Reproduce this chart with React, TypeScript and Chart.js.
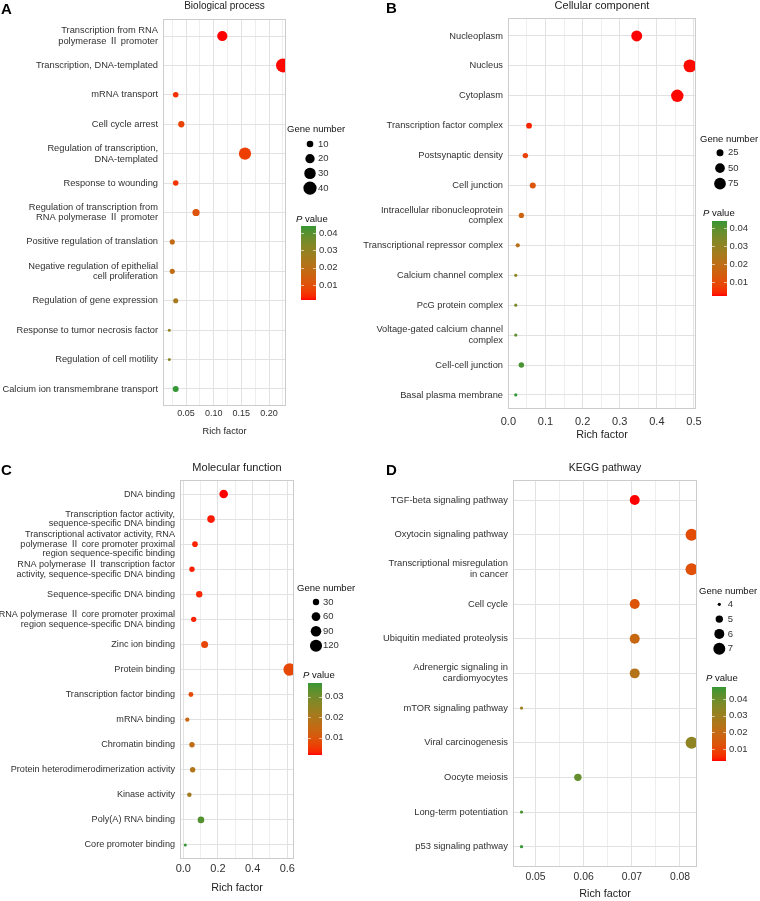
import React, { useEffect, useRef } from "react";
import { Chart, registerables } from "chart.js";

Chart.register(...registerables);

const FONT = "'Liberation Sans', Arial, 'Noto Sans CJK SC', sans-serif";

// ---------- Panel A: Biological process ----------
const bpTerms: (string | string[])[] = [
  ["Transcription from RNA", "polymerase Ⅱ promoter"],
  "Transcription, DNA-templated",
  "mRNA transport",
  "Cell cycle arrest",
  ["Regulation of transcription,", "DNA-templated"],
  "Response to wounding",
  ["Regulation of transcription from", "RNA polymerase Ⅱ promoter"],
  "Positive regulation of translation",
  ["Negative regulation of epithelial", "cell proliferation"],
  "Regulation of gene expression",
  "Response to tumor necrosis factor",
  "Regulation of cell motility",
  "Calcium ion transmembrane transport",
];
const bpRichFactor = [0.1156, 0.2253, 0.0314, 0.0415, 0.1566, 0.0314, 0.0681, 0.0252, 0.0252, 0.0314, 0.0198, 0.0198, 0.0314];
const bpGeneNumber = [24, 45, 7, 9, 34, 7, 12, 6, 6, 6, 2, 2, 8];
const bpPValue = [0.00135, 0.0016, 0.0045, 0.0075, 0.0065, 0.005, 0.011, 0.018, 0.019, 0.025, 0.03, 0.032, 0.044];
const bpXTicks = [0.05, 0.1, 0.15, 0.2];
const bpSizeBreaks = [10, 20, 30, 40];
const bpPBreaks = [0.01, 0.02, 0.03, 0.04];

// ---------- Panel B: Cellular component ----------
const ccTerms: (string | string[])[] = [
  "Nucleoplasm",
  "Nucleus",
  "Cytoplasm",
  "Transcription factor complex",
  "Postsynaptic density",
  "Cell junction",
  ["Intracellular ribonucleoprotein", "complex"],
  "Transcriptional repressor complex",
  "Calcium channel complex",
  "PcG protein complex",
  ["Voltage-gated calcium channel", "complex"],
  "Cell-cell junction",
  "Basal plasma membrane",
];
const ccRichFactor = [0.3457, 0.489, 0.455, 0.0557, 0.0458, 0.0657, 0.035, 0.0253, 0.0199, 0.0199, 0.0199, 0.035, 0.0199];
const ccGeneNumber = [65, 90, 84, 16, 14, 18, 13, 7, 3, 3, 3, 14, 3];
const ccPValue = [0.0022, 0.0025, 0.0024, 0.004, 0.008, 0.012, 0.016, 0.021, 0.031, 0.035, 0.039, 0.042, 0.0439];
const ccXTicks = [0.0, 0.1, 0.2, 0.3, 0.4, 0.5];
const ccSizeBreaks = [25, 50, 75];
const ccPBreaks = [0.01, 0.02, 0.03, 0.04];

// ---------- Panel C: Molecular function ----------
const mfTerms: (string | string[])[] = [
  "DNA binding",
  ["Transcription factor activity,", "sequence-specific DNA binding"],
  ["Transcriptional activator activity, RNA", "polymerase Ⅱ core promoter proximal", "region sequence-specific binding"],
  ["RNA polymerase Ⅱ transcription factor", "activity, sequence-specific DNA binding"],
  "Sequence-specific DNA binding",
  ["RNA polymerase Ⅱ core promoter proximal", "region sequence-specific DNA binding"],
  "Zinc ion binding",
  "Protein binding",
  "Transcription factor binding",
  "mRNA binding",
  "Chromatin binding",
  "Protein heterodimerodimerization activity",
  "Kinase activity",
  "Poly(A) RNA binding",
  "Core promoter binding",
];
const mfRichFactor = [0.233, 0.16, 0.0675, 0.05, 0.092, 0.06, 0.123, 0.614, 0.044, 0.023, 0.05, 0.054, 0.035, 0.102, 0.0115];
const mfGeneNumber = [58, 44, 22, 20, 30, 20, 37, 130, 16, 11, 20, 20, 13, 32, 3];
const mfPValue = [0.00156, 0.0025, 0.003, 0.0028, 0.0035, 0.003, 0.007, 0.0075, 0.008, 0.014, 0.016, 0.019, 0.022, 0.034, 0.0367];
const mfXTicks = [0.0, 0.2, 0.4, 0.6];
const mfSizeBreaks = [30, 60, 90, 120];
const mfPBreaks = [0.01, 0.02, 0.03];

// ---------- Panel D: KEGG pathway ----------
const kgTerms: (string | string[])[] = [
  "TGF-beta signaling pathway",
  "Oxytocin signaling pathway",
  ["Transcriptional misregulation", "in cancer"],
  "Cell cycle",
  "Ubiquitin mediated proteolysis",
  ["Adrenergic signaling in", "cardiomyocytes"],
  "mTOR signaling pathway",
  "Viral carcinogenesis",
  "Oocyte meiosis",
  "Long-term potentiation",
  "p53 signaling pathway",
];
const kgRichFactor = [0.0706, 0.0824, 0.0824, 0.0706, 0.0706, 0.0706, 0.0471, 0.0824, 0.0588, 0.0471, 0.0471];
const kgGeneNumber = [6, 7, 7, 6, 6, 6, 4, 7, 5, 4, 4];
const kgPValue = [0.0028, 0.011, 0.012, 0.013, 0.019, 0.024, 0.03, 0.033, 0.041, 0.045, 0.0472];
const kgXTicks = [0.05, 0.06, 0.07, 0.08];
const kgSizeBreaks = [4, 5, 6, 7];
const kgPBreaks = [0.01, 0.02, 0.03, 0.04];

// ---------- colour helpers (Lab interpolation like ggplot gradients) ----------
const LOW_RGB = [255, 0, 0];
const HIGH_RGB = [52, 150, 52];

function toLin(c: number) {
  const v = c / 255;
  return v <= 0.04045 ? v / 12.92 : Math.pow((v + 0.055) / 1.055, 2.4);
}
function fromLin(c: number) {
  const v = c <= 0.0031308 ? 12.92 * c : 1.055 * Math.pow(c, 1 / 2.4) - 0.055;
  return Math.round(Math.max(0, Math.min(1, v)) * 255);
}
function rgbToLab(rgb: number[]) {
  const R = toLin(rgb[0]), G = toLin(rgb[1]), B = toLin(rgb[2]);
  const X = (0.4124 * R + 0.3576 * G + 0.1805 * B) / 0.95047;
  const Y = 0.2126 * R + 0.7152 * G + 0.0722 * B;
  const Z = (0.0193 * R + 0.1192 * G + 0.9505 * B) / 1.08883;
  const f = (t: number) => (t > 0.008856 ? Math.cbrt(t) : 7.787 * t + 16 / 116);
  const fx = f(X), fy = f(Y), fz = f(Z);
  return [116 * fy - 16, 500 * (fx - fy), 200 * (fy - fz)];
}
function labToRgb(lab: number[]) {
  const fy = (lab[0] + 16) / 116;
  const fx = fy + lab[1] / 500;
  const fz = fy - lab[2] / 200;
  const inv = (t: number) => (t * t * t > 0.008856 ? t * t * t : (t - 16 / 116) / 7.787);
  const X = inv(fx) * 0.95047, Y = inv(fy), Z = inv(fz) * 1.08883;
  const R = 3.2406 * X - 1.5372 * Y - 0.4986 * Z;
  const G = -0.9689 * X + 1.8758 * Y + 0.0415 * Z;
  const B = 0.0557 * X - 0.204 * Y + 1.057 * Z;
  return [fromLin(R), fromLin(G), fromLin(B)];
}
const LOW_LAB = rgbToLab(LOW_RGB);
const HIGH_LAB = rgbToLab(HIGH_RGB);
function pColor(p: number, pMin: number, pMax: number) {
  const t = Math.max(0, Math.min(1, (p - pMin) / (pMax - pMin)));
  const lab = LOW_LAB.map((v, i) => v + (HIGH_LAB[i] - v) * t);
  const c = labToRgb(lab);
  return `rgb(${c[0]},${c[1]},${c[2]})`;
}
function makeRadius(genes: number[], rMin: number, rMax: number) {
  const nMin = Math.min(...genes), nMax = Math.max(...genes);
  return (n: number) => Math.sqrt(rMin * rMin + ((rMax * rMax - rMin * rMin) * (n - nMin)) / (nMax - nMin));
}

const GRID_MAJOR = "#e2e2e2";
const GRID_MINOR = "#eeeeee";
const BORDER = "#cccccc";
const LABEL_COLOR = "#303030";

type Panel = {
  letter: string;
  letterPos: [number, number];
  title: string;
  titleSize: number;
  titleY: number;
  terms: (string | string[])[];
  rich: number[];
  genes: number[];
  pValue: number[];
  xTicks: number[];
  sizeBreaks: number[];
  pBreaks: number[];
  box: { x: number; y: number; w: number; h: number };
  area: { left: number; right: number; top: number; bottom: number };
  xMin: number;
  xMax: number;
  xStep: number;
  xDec: number;
  yPad: [number, number];
  labelSize: number;
  labelLH: number;
  tickSize: number;
  xTickPad: number;
  axisTitleSize: number;
  xTitlePadBottom: number;
  rMin: number;
  rMax: number;
  leg: {
    sizeTitle: [number, number];
    dotX: number;
    dotY0: number;
    dotStep: number;
    labelX: number;
    pTitle: [number, number];
    barX: number;
    barW: number;
    barTop: number;
    barBottom: number;
    pLabelX: number;
  };
};

const panels: Panel[] = [
  {
    letter: "A", letterPos: [1, 10], title: "Biological process", titleSize: 10, titleY: 6,
    terms: bpTerms, rich: bpRichFactor, genes: bpGeneNumber, pValue: bpPValue,
    xTicks: bpXTicks, sizeBreaks: bpSizeBreaks, pBreaks: bpPBreaks,
    box: { x: 0, y: 0, w: 355, h: 445 },
    area: { left: 163, right: 286, top: 19, bottom: 406 },
    xMin: 0.00843, xMax: 0.2307, xStep: 0.05, xDec: 2, yPad: [0.578, 0.578],
    labelSize: 9.3, labelLH: 1.15, tickSize: 9, xTickPad: 2.6, axisTitleSize: 9.2, xTitlePadBottom: 8.5,
    rMin: 1.5, rMax: 7,
    leg: { sizeTitle: [287, 129], dotX: 310, dotY0: 144, dotStep: 14.7, labelX: 318,
      pTitle: [296, 219], barX: 301, barW: 15, barTop: 226, barBottom: 300, pLabelX: 319 },
  },
  {
    letter: "B", letterPos: [386, 9], title: "Cellular component", titleSize: 11, titleY: 6,
    terms: ccTerms, rich: ccRichFactor, genes: ccGeneNumber, pValue: ccPValue,
    xTicks: ccXTicks, sizeBreaks: ccSizeBreaks, pBreaks: ccPBreaks,
    box: { x: 355, y: 0, w: 405, h: 445 },
    area: { left: 508, right: 696, top: 18, bottom: 409 },
    xMin: -0.001, xMax: 0.5054, xStep: 0.1, xDec: 1, yPad: [0.6, 0.47],
    labelSize: 9.3, labelLH: 1.16, tickSize: 11, xTickPad: 6.1, axisTitleSize: 10.8, xTitlePadBottom: 3.5,
    rMin: 1.6, rMax: 6.4,
    leg: { sizeTitle: [700, 139], dotX: 720, dotY0: 152.7, dotStep: 15.5, labelX: 728,
      pTitle: [703, 213], barX: 712, barW: 15, barTop: 221, barBottom: 296, pLabelX: 729.5 },
  },
  {
    letter: "C", letterPos: [1, 471], title: "Molecular function", titleSize: 11, titleY: 468,
    terms: mfTerms, rich: mfRichFactor, genes: mfGeneNumber, pValue: mfPValue,
    xTicks: mfXTicks, sizeBreaks: mfSizeBreaks, pBreaks: mfPBreaks,
    box: { x: 0, y: 455, w: 355, h: 446 },
    area: { left: 180, right: 294, top: 480, bottom: 859 },
    xMin: -0.019, xMax: 0.6387, xStep: 0.2, xDec: 1, yPad: [0.56, 0.56],
    labelSize: 9.1, labelLH: 1.06, tickSize: 11, xTickPad: 3.4, axisTitleSize: 10.8, xTitlePadBottom: 6.5,
    rMin: 1.5, rMax: 6.3,
    leg: { sizeTitle: [297, 588], dotX: 316, dotY0: 602, dotStep: 14.6, labelX: 323,
      pTitle: [303, 675], barX: 308, barW: 14, barTop: 683, barBottom: 755, pLabelX: 325 },
  },
  {
    letter: "D", letterPos: [386, 471], title: "KEGG pathway", titleSize: 10.5, titleY: 468,
    terms: kgTerms, rich: kgRichFactor, genes: kgGeneNumber, pValue: kgPValue,
    xTicks: kgXTicks, sizeBreaks: kgSizeBreaks, pBreaks: kgPBreaks,
    box: { x: 355, y: 455, w: 405, h: 446 },
    area: { left: 513, right: 697, top: 480, bottom: 867 },
    xMin: 0.04533, xMax: 0.08353, xStep: 0.01, xDec: 2, yPad: [0.577, 0.585],
    labelSize: 9.4, labelLH: 1.16, tickSize: 10.4, xTickPad: 3.5, axisTitleSize: 10.8, xTitlePadBottom: 0.5,
    rMin: 1.6, rMax: 6,
    leg: { sizeTitle: [699, 591], dotX: 719.3, dotY0: 604.3, dotStep: 14.8, labelX: 727.7,
      pTitle: [706, 678.7], barX: 712, barW: 14, barTop: 687, barBottom: 761, pLabelX: 729 },
  },
];

function buildChart(canvas: HTMLCanvasElement, c: Panel) {
  const { box, area, leg } = c;
  const n = c.terms.length;
  const pMin = Math.min(...c.pValue);
  const pMax = Math.max(...c.pValue);
  const radius = makeRadius(c.genes, c.rMin, c.rMax);
  const minor = c.xStep / 2;
  const majorIndex = (v: number) => c.xTicks.findIndex((t) => Math.abs(t - v) < minor / 100);
  const yAxisWidth = area.left - box.x;
  const xAxisHeight = box.y + box.h - area.bottom;
  const ox = box.x, oy = box.y;

  const decor = {
    id: "decor" + c.letter,
    afterDatasetsDraw(chart: any) {
      const ctx = chart.ctx;
      const a = chart.chartArea;
      ctx.save();
      ctx.strokeStyle = BORDER;
      ctx.lineWidth = 1;
      ctx.strokeRect(a.left + 0.5, a.top + 0.5, a.right - a.left - 1, a.bottom - a.top - 1);
      ctx.restore();
    },
    afterDraw(chart: any) {
      const ctx = chart.ctx;
      const a = chart.chartArea;
      ctx.save();
      ctx.textBaseline = "middle";
      // panel letter
      ctx.fillStyle = "#000";
      ctx.textAlign = "left";
      ctx.font = `bold 15px ${FONT}`;
      ctx.fillText(c.letter, c.letterPos[0] - ox, c.letterPos[1] - oy);
      // panel title
      ctx.fillStyle = "#222";
      ctx.textAlign = "center";
      ctx.font = `${c.titleSize}px ${FONT}`;
      ctx.fillText(c.title, (a.left + a.right) / 2, c.titleY - oy);
      // size legend
      ctx.textAlign = "left";
      ctx.font = `9.5px ${FONT}`;
      ctx.fillStyle = "#111";
      ctx.fillText("Gene number", leg.sizeTitle[0] - ox, leg.sizeTitle[1] - oy);
      c.sizeBreaks.forEach((v, i) => {
        const cy = leg.dotY0 + i * leg.dotStep - oy;
        ctx.beginPath();
        ctx.arc(leg.dotX - ox, cy, radius(v), 0, Math.PI * 2);
        ctx.fillStyle = "#000";
        ctx.fill();
        ctx.fillStyle = "#333";
        ctx.fillText(String(v), leg.labelX - ox, cy);
      });
      // P value title
      ctx.fillStyle = "#111";
      ctx.font = `italic 9.5px ${FONT}`;
      ctx.fillText("P", leg.pTitle[0] - ox, leg.pTitle[1] - oy);
      const pw = ctx.measureText("P").width;
      ctx.font = `9.5px ${FONT}`;
      ctx.fillText(" value", leg.pTitle[0] - ox + pw, leg.pTitle[1] - oy);
      // colour bar
      const barH = leg.barBottom - leg.barTop;
      for (let yy = 0; yy < barH; yy++) {
        const p = pMax - ((yy + 0.5) / barH) * (pMax - pMin);
        ctx.fillStyle = pColor(p, pMin, pMax);
        ctx.fillRect(leg.barX - ox, leg.barTop - oy + yy, leg.barW, 1);
      }
      ctx.font = `9.5px ${FONT}`;
      c.pBreaks.forEach((b) => {
        const y = leg.barBottom - ((b - pMin) / (pMax - pMin)) * barH - oy;
        ctx.strokeStyle = "rgba(255,255,255,0.6)";
        ctx.lineWidth = 1;
        const tl = leg.barW / 5;
        ctx.beginPath();
        ctx.moveTo(leg.barX - ox, Math.round(y) + 0.5);
        ctx.lineTo(leg.barX - ox + tl, Math.round(y) + 0.5);
        ctx.moveTo(leg.barX - ox + leg.barW - tl, Math.round(y) + 0.5);
        ctx.lineTo(leg.barX - ox + leg.barW, Math.round(y) + 0.5);
        ctx.stroke();
        ctx.fillStyle = "#333";
        ctx.fillText(b.toFixed(2), leg.pLabelX - ox, y);
      });
      ctx.restore();
    },
  };

  return new Chart(canvas, {
    type: "bubble",
    data: {
      datasets: [
        {
          data: c.rich.map((x, i) => ({ x, y: i + 1, r: radius(c.genes[i]) })),
          backgroundColor: c.pValue.map((p) => pColor(p, pMin, pMax)),
          borderWidth: 0,
          hoverBorderWidth: 0,
          hoverRadius: 0,
          clip: 0,
        } as any,
      ],
    },
    options: {
      animation: false,
      responsive: false,
      maintainAspectRatio: false,
      events: [],
      layout: {
        padding: { left: 0, top: area.top - box.y, right: box.x + box.w - area.right, bottom: 0 },
      },
      plugins: { legend: { display: false }, tooltip: { enabled: false }, title: { display: false } },
      scales: {
        x: {
          type: "linear",
          position: "bottom",
          min: c.xMin,
          max: c.xMax,
          afterFit: (s: any) => { s.height = xAxisHeight; },
          border: { display: false },
          grid: {
            color: (ctx: any) => (ctx.tick && majorIndex(ctx.tick.value) >= 0 ? GRID_MAJOR : GRID_MINOR),
            drawTicks: false,
            lineWidth: 1,
          },
          ticks: {
            stepSize: minor,
            includeBounds: false,
            autoSkip: false,
            maxRotation: 0,
            minRotation: 0,
            padding: c.xTickPad,
            color: LABEL_COLOR,
            font: { family: FONT, size: c.tickSize },
            callback: (v: any) => {
              const i = majorIndex(Number(v));
              return i >= 0 ? c.xTicks[i].toFixed(c.xDec) : "";
            },
          },
          title: {
            display: true,
            text: "Rich factor",
            color: "#222",
            font: { family: FONT, size: c.axisTitleSize },
            padding: { top: 0, bottom: c.xTitlePadBottom },
          },
        },
        y: {
          type: "linear",
          position: "left",
          reverse: true,
          min: 1 - c.yPad[0],
          max: n + c.yPad[1],
          afterFit: (s: any) => { s.width = yAxisWidth; },
          border: { display: false },
          grid: { color: GRID_MAJOR, drawTicks: false, lineWidth: 1 },
          ticks: {
            stepSize: 1,
            includeBounds: false,
            autoSkip: false,
            padding: 5,
            color: LABEL_COLOR,
            font: { family: FONT, size: c.labelSize, lineHeight: c.labelLH },
            callback: (v: any) => c.terms[Math.round(Number(v)) - 1] ?? "",
          },
        },
      },
    } as any,
    plugins: [decor],
  });
}

function PanelChart({ cfg }: { cfg: Panel }) {
  const ref = useRef<HTMLCanvasElement>(null);
  useEffect(() => {
    if (!ref.current) return;
    const chart = buildChart(ref.current, cfg);
    return () => chart.destroy();
  }, [cfg]);
  return (
    <canvas
      ref={ref}
      width={cfg.box.w}
      height={cfg.box.h}
      style={{ position: "absolute", left: cfg.box.x, top: cfg.box.y, width: cfg.box.w, height: cfg.box.h }}
    />
  );
}

export default function App() {
  return (
    <div style={{ position: "fixed", left: 0, top: 0, width: 760, height: 901, background: "#fff", overflow: "hidden" }}>
      {panels.map((p) => (
        <PanelChart key={p.letter} cfg={p} />
      ))}
    </div>
  );
}
